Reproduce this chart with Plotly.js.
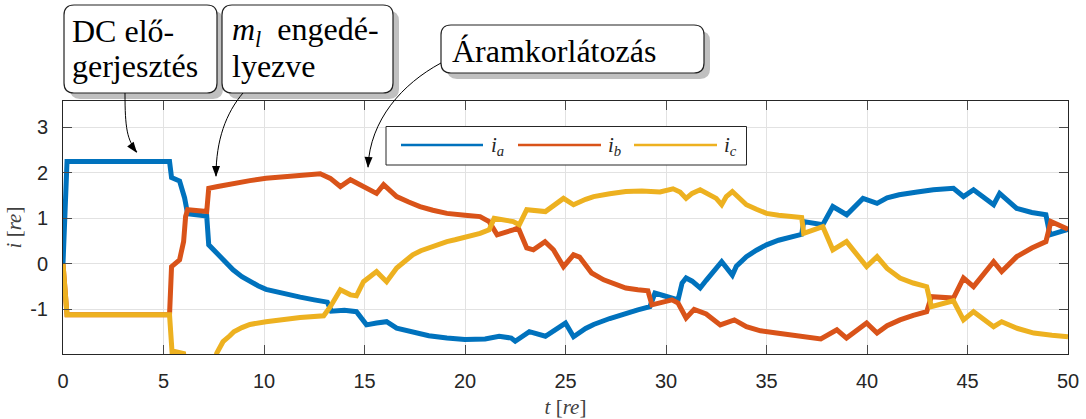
<!DOCTYPE html>
<html><head><meta charset="utf-8">
<script src="https://cdn.plot.ly/plotly-3.0.1.min.js"></script>
<style>html,body{margin:0;padding:0;background:#fff}</style>
</head><body>
<div id="chart" style="width:1086px;height:419px"></div>
<script>
// ---- data ----
const tA = [0, 0.2, 5.3, 5.4, 5.8, 6.05, 6.2, 6.9, 7.15, 7.25, 7.5, 7.8, 8.1, 8.46, 8.9, 9.3, 9.7, 10.1, 10.96, 11.8, 12.5, 13.15, 13.35, 14.0, 14.6, 15.1, 15.6, 16.1, 16.6, 17.4, 18.2, 19.1, 20.0, 21.0, 21.7, 22.3, 22.5, 23.2, 23.5, 24.0, 25.0, 25.4, 26.0, 26.4, 27.2, 28.0, 28.6, 29.2, 29.45, 29.9, 30.2, 30.6, 30.8, 31.0, 31.3, 31.7, 32.0, 32.3, 32.77, 33.0, 33.3, 33.5, 34.0, 34.5, 35.0, 35.6, 36.3, 36.75, 36.85, 37.8, 38.3, 38.99, 39.8, 40.5, 41.0, 41.6, 42.5, 43.3, 44.3, 44.8, 45.3, 46.3, 46.6, 47.0, 47.45, 48.2, 48.9, 49.1, 50];
const iA = [0, 2.25, 2.25, 1.9, 1.82, 1.45, 1.1, 1.05, 1.05, 0.42, 0.31, 0.16, 0.01, -0.13, -0.28, -0.39, -0.48, -0.56, -0.66, -0.73, -0.79, -0.84, -1.04, -1.02, -1.05, -1.34, -1.30, -1.27, -1.41, -1.50, -1.58, -1.63, -1.66, -1.65, -1.59, -1.63, -1.70, -1.49, -1.52, -1.59, -1.30, -1.60, -1.42, -1.33, -1.20, -1.08, -1.01, -0.94, -0.64, -0.70, -0.75, -0.79, -0.42, -0.31, -0.38, -0.53, -0.36, -0.20, 0.05, -0.08, -0.25, -0.05, 0.16, 0.30, 0.42, 0.52, 0.60, 0.65, 0.93, 0.86, 1.26, 1.08, 1.44, 1.33, 1.45, 1.52, 1.58, 1.63, 1.66, 1.48, 1.63, 1.30, 1.55, 1.38, 1.22, 1.13, 1.08, 0.64, 0.76];

const tB = [0, 0.2, 5.3, 5.4, 5.8, 6.0, 6.1, 6.2, 7.15, 7.25, 7.7, 8.5, 9.3, 10.1, 11.0, 11.8, 12.8, 13.3, 13.8, 14.3, 14.8, 15.1, 15.6, 15.95, 16.6, 17.2, 17.76, 18.4, 19.1, 20.0, 20.75, 21.2, 21.6, 22.4, 22.65, 23.07, 23.4, 23.98, 24.4, 24.9, 25.4, 25.7, 26.3, 26.9, 27.5, 28.0, 28.6, 29.1, 29.3, 29.7, 30.3, 30.6, 30.85, 31.0, 31.4, 31.7, 32.0, 32.7, 33.4, 34.0, 34.7, 35.5, 36.3, 37.7, 38.5, 38.98, 39.98, 40.5, 41.0, 41.64, 42.3, 42.97, 43.2, 44.3, 44.8, 45.3, 46.3, 46.7, 47.45, 48.2, 48.9, 49.15, 50];
const iB = [0, -1.12, -1.12, -0.06, 0.09, 0.49, 1.04, 1.19, 1.15, 1.66, 1.70, 1.77, 1.83, 1.88, 1.91, 1.93, 1.98, 1.88, 1.70, 1.85, 1.74, 1.68, 1.55, 1.74, 1.48, 1.36, 1.26, 1.18, 1.11, 1.07, 1.04, 0.93, 0.64, 0.75, 0.79, 0.35, 0.31, 0.49, 0.31, -0.06, 0.20, 0.15, -0.20, -0.35, -0.45, -0.53, -0.57, -0.59, -0.90, -0.86, -0.79, -0.86, -1.05, -1.19, -1.00, -1.05, -1.10, -1.34, -1.23, -1.38, -1.47, -1.52, -1.56, -1.65, -1.45, -1.63, -1.30, -1.52, -1.36, -1.23, -1.13, -1.05, -0.72, -0.75, -0.31, -0.50, 0.05, -0.17, 0.16, 0.35, 0.49, 0.93, 0.76];

const tC = [0, 0.2, 5.3, 5.45, 5.6, 6.0, 6.1, 7.5, 7.65, 7.96, 8.3, 8.5, 8.9, 9.3, 10.1, 11.0, 11.8, 12.97, 13.3, 13.8, 14.3, 14.6, 14.95, 15.6, 16.1, 16.6, 17.0, 17.4, 17.8, 18.2, 18.6, 19.1, 19.5, 20.0, 20.4, 20.75, 21.2, 21.45, 22.4, 22.7, 23.07, 24.0, 24.9, 25.4, 26.0, 26.4, 27.2, 28.0, 28.8, 29.7, 30.35, 30.7, 31.0, 31.3, 31.7, 32.1, 32.5, 32.77, 33.0, 33.3, 33.7, 34.0, 34.5, 35.0, 35.6, 36.3, 36.75, 36.85, 37.8, 38.3, 38.98, 39.98, 40.5, 41.0, 41.64, 42.3, 42.97, 43.2, 44.3, 44.8, 45.3, 46.3, 46.7, 47.5, 48.3, 49.2, 50];
const iC = [0, -1.12, -1.12, -2.10, -1.93, -1.97, -2.30, -2.30, -1.96, -1.71, -1.58, -1.49, -1.40, -1.33, -1.27, -1.22, -1.18, -1.14, -0.94, -0.57, -0.68, -0.70, -0.39, -0.17, -0.39, -0.09, 0.05, 0.20, 0.29, 0.36, 0.43, 0.49, 0.53, 0.58, 0.63, 0.67, 0.75, 1.00, 0.93, 0.86, 1.19, 1.15, 1.44, 1.30, 1.42, 1.48, 1.54, 1.59, 1.60, 1.58, 1.65, 1.58, 1.44, 1.55, 1.63, 1.55, 1.44, 1.30, 1.48, 1.59, 1.44, 1.30, 1.20, 1.11, 1.07, 1.04, 1.02, 0.67, 0.82, 0.31, 0.49, -0.06, 0.16, -0.10, -0.31, -0.42, -0.50, -0.94, -0.81, -1.23, -1.05, -1.38, -1.27, -1.42, -1.52, -1.57, -1.60];

const seriesNames = ['<i>i</i><sub><i>a</i></sub>', '<i>i</i><sub><i>b</i></sub>', '<i>i</i><sub><i>c</i></sub>'];
const seriesColors = ['#0072BD', '#D95319', '#EDB120'];
const xTicks = [0, 5, 10, 15, 20, 25, 30, 35, 40, 45, 50];
const yTicks = [-1, 0, 1, 2, 3];
const xLabel = '<i>t</i> [<i>re</i>]';
const yLabel = '<i>i</i> [<i>re</i>]';
const calloutLines = [['DC elő-', 'gerjesztés'], ['<i>m</i><sub><i>l</i></sub>  engedé-', 'lyezve'], ['Áramkorlátozás']];

// ---- layout geometry (pixels) ----
const W = 1086, H = 419, ML = 63, MR = 18, MT = 101, MB = 65;
const PW = W - ML - MR, PH = H - MT - MB;
const fx = x => (x - ML) / PW;
const fy = y => (H - MB - y) / PH;
const P = (x, y) => fx(x).toFixed(5) + ',' + fy(y).toFixed(5);

function roundRect(x0, y0, x1, y1, r) {
  return 'M' + P(x0 + r, y0) + ' L' + P(x1 - r, y0) + ' Q' + P(x1, y0) + ' ' + P(x1, y0 + r) +
    ' L' + P(x1, y1 - r) + ' Q' + P(x1, y1) + ' ' + P(x1 - r, y1) +
    ' L' + P(x0 + r, y1) + ' Q' + P(x0, y1) + ' ' + P(x0, y1 - r) +
    ' L' + P(x0, y0 + r) + ' Q' + P(x0, y0) + ' ' + P(x0 + r, y0) + ' Z';
}
function arrowHead(tx, ty, dx, dy, len, wid) {
  const n = Math.hypot(dx, dy); dx /= n; dy /= n;
  const bx = tx - dx * len, by = ty - dy * len;
  const nx = -dy, ny = dx;
  return 'M' + P(tx, ty) + ' L' + P(bx + nx * wid / 2, by + ny * wid / 2) + ' L' + P(bx - nx * wid / 2, by - ny * wid / 2) + ' Z';
}

const shapes = [];
const annotations = [];
const boxes = [[64, 5, 217, 93], [222, 5, 393, 93], [441, 25, 704, 73]];
boxes.forEach(b => {
  shapes.push({type: 'path', xref: 'paper', yref: 'paper', layer: 'above', path: roundRect(b[0] + 6, b[1] + 6, b[2] + 6, b[3] + 6, 10), fillcolor: '#c0c0c0', line: {width: 0}});
});
boxes.forEach(b => {
  shapes.push({type: 'path', xref: 'paper', yref: 'paper', layer: 'above', path: roundRect(b[0], b[1], b[2], b[3], 10), fillcolor: '#ffffff', line: {color: '#222', width: 1.2}});
});
// curved connectors
const curves = [
  {d: [[125, 93], [125, 128], [127, 140], [137, 152]], dir: [0.75, 1]},
  {d: [[243, 93], [226, 113], [216, 140], [216, 176]], dir: [0, 1]},
  {d: [[441, 63], [402, 84], [370, 120], [368, 167]], dir: [-0.05, 1]}
];
curves.forEach(c => {
  const p = c.d;
  shapes.push({type: 'path', xref: 'paper', yref: 'paper', layer: 'above',
    path: 'M' + P(p[0][0], p[0][1]) + ' C' + P(p[1][0], p[1][1]) + ' ' + P(p[2][0], p[2][1]) + ' ' + P(p[3][0], p[3][1]),
    line: {color: '#000', width: 1}});
  shapes.push({type: 'path', xref: 'paper', yref: 'paper', layer: 'above',
    path: arrowHead(p[3][0], p[3][1] + 1, c.dir[0], c.dir[1], 11, 8), fillcolor: '#000', line: {width: 0}});
});
// callout texts
const serif = 'Liberation Serif, Times New Roman, serif';
const textPos = [[[70, 31], [70, 66]], [[230, 31], [230, 66]], [[450, 51]]];
calloutLines.forEach((lines, i) => {
  lines.forEach((t, j) => {
    annotations.push({xref: 'paper', yref: 'paper', x: fx(textPos[i][j][0]), y: fy(textPos[i][j][1]), xanchor: 'left', yanchor: 'middle',
      text: t, showarrow: false, font: {family: serif, size: 32, color: '#000'}});
  });
});
// legend (drawn manually to match the long sample lines)
shapes.push({type: 'rect', xref: 'paper', yref: 'paper', layer: 'above', x0: fx(386), x1: fx(746.5), y0: fy(126.5), y1: fy(165), fillcolor: '#fff', line: {color: '#262626', width: 1}});
const legX = [[401, 483, 489], [518, 601, 606], [634, 717, 722]];
seriesNames.forEach((nm, i) => {
  shapes.push({type: 'line', xref: 'paper', yref: 'paper', layer: 'above', x0: fx(legX[i][0]), x1: fx(legX[i][1]), y0: fy(145), y1: fy(145), line: {color: seriesColors[i], width: 2.5}});
  annotations.push({xref: 'paper', yref: 'paper', x: fx(legX[i][2]), y: fy(146), xanchor: 'left', yanchor: 'middle', text: nm, showarrow: false, font: {family: serif, size: 21, color: '#262626'}});
});

const traces = [[tA, iA], [tB, iB], [tC, iC]].map((s, i) => ({
  x: s[0], y: s[1], type: 'scatter', mode: 'lines', name: seriesNames[i],
  line: {color: seriesColors[i], width: 5}, showlegend: false
}));

const axisCommon = {
  ticks: 'inside', ticklen: 9, tickwidth: 1, tickcolor: '#4a4a4a',
  showline: true, linecolor: '#262626', linewidth: 1, mirror: 'ticks',
  showgrid: true, gridcolor: '#e2e2e2', gridwidth: 1, zeroline: false,
  tickfont: {family: 'Liberation Sans, Arial, sans-serif', size: 20, color: '#262626'}
};

const layout = {
  width: W, height: H,
  margin: {l: ML, r: MR, t: MT, b: MB},
  paper_bgcolor: '#fff', plot_bgcolor: '#fff',
  showlegend: false,
  xaxis: Object.assign({}, axisCommon, {range: [0, 50], tickvals: xTicks, ticktext: xTicks.map(String), ticklabelstandoff: 9,
    title: {text: xLabel, standoff: 8, font: {family: serif, size: 21, color: '#404040'}}}),
  yaxis: Object.assign({}, axisCommon, {range: [-1.98, 3.58], tickvals: yTicks, ticktext: yTicks.map(String), ticklabelstandoff: 10,
    title: {text: yLabel, standoff: 2, font: {family: serif, size: 21, color: '#404040'}}}),
  shapes: shapes,
  annotations: annotations
};

Plotly.newPlot('chart', traces, layout, {displayModeBar: false, staticPlot: true});
</script>
</body></html>
